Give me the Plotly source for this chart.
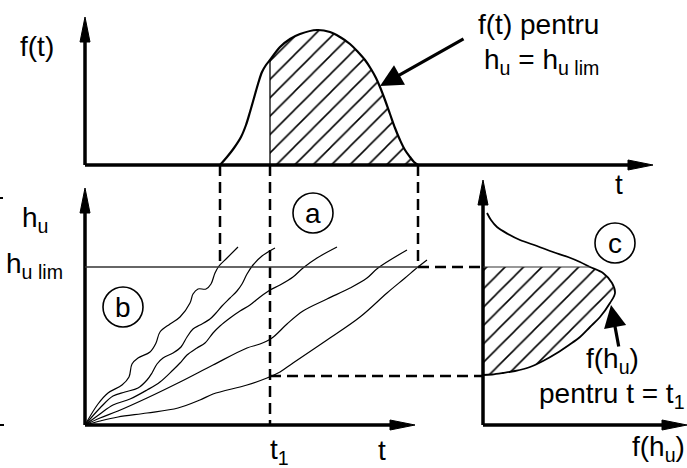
import plotly.graph_objects as go

W, H = 687, 468
FONT = "Liberation Sans, Arial, sans-serif"

# ---- panel geometry (drawing units = pixels, y grows downward) ----
TOP_ORIGIN = (85, 165)      # f(t) vs t
TOP_YTIP, TOP_XTIP = 17, 653
LEFT_ORIGIN = (85, 425)     # h_u vs t
LEFT_YTIP, LEFT_XTIP = 188, 415
RIGHT_ORIGIN = (483, 425)   # h_u vs f(h_u)
RIGHT_YTIP, RIGHT_XTIP = 180, 687

T_START, T1, T_END = 220, 270, 418   # t where h_u reaches h_u lim / chosen t1 / last crossing
H_LIM = 267                          # level h_u lim
H_T1 = 376                           # lowest trajectory value at t1

# ---- f(t) for h_u = h_u lim ----
ft_t = [220, 227, 234, 241, 246, 250, 254, 258, 262, 266, 270, 280, 290, 300, 317, 330,
        340, 350, 358, 365, 371, 376, 380, 385, 390, 395, 400, 405, 410, 414, 418]
ft_f = [165, 157, 148, 137, 125, 112, 98, 84, 72, 65, 60, 47, 39, 34, 30, 32,
        37, 44, 52, 60, 69, 78, 87, 100, 114, 128, 140, 150, 157, 162, 165]

# ---- h_u(t) realisations ----
traj_t = [
    [85, 98, 108, 122, 129, 132, 138, 150, 156, 160, 170, 180, 190, 193, 198, 206, 211, 215, 219, 227, 238],
    [85, 100, 113, 125, 138, 147, 152, 157, 163, 173, 181, 187, 193, 200, 210, 216, 222, 230, 237, 242, 247, 253, 262, 275],
    [85, 100, 113, 130, 147, 160, 173, 180, 187, 197, 205, 213, 220, 230, 240, 250, 260, 270, 280, 293, 303, 317, 337],
    [85, 100, 118, 147, 180, 213, 247, 260, 272, 287, 303, 327, 350, 367, 378, 407],
    [85, 100, 118, 147, 178, 200, 213, 247, 267, 280, 293, 327, 360, 387, 405, 418, 427],
]
traj_h = [
    [425, 404, 393, 385, 377, 364, 358, 352, 343, 332, 324, 317, 303, 294, 289, 289, 284, 273, 266, 258, 247],
    [425, 408, 396, 392, 388, 380, 373, 364, 358, 353, 347, 337, 329, 325, 319, 313, 306, 298, 291, 284, 274, 265, 256, 248],
    [425, 414, 405, 399, 390, 382, 370, 363, 355, 348, 343, 333, 326, 318, 311, 305, 297, 290, 285, 277, 268, 258, 247],
    [425, 418, 411, 398, 382, 365, 348, 344, 338, 324, 311, 299, 288, 278, 268, 250],
    [425, 421, 417, 413, 408, 400, 394, 385, 378, 372, 363, 340, 317, 293, 278, 267, 260],
]

# ---- f(h_u) at t = t1 ----
fh_f = [487, 491, 497, 508, 520, 537, 553, 568, 580, 590, 603, 612, 615, 610, 600, 590,
        580, 569, 557, 543, 530, 515, 503, 492, 483]
fh_h = [213, 220, 227, 234, 240, 246, 252, 257, 262, 267, 273, 283, 293, 303, 317, 327,
        337, 345, 353, 361, 367, 371, 373, 374.5, 375]

# ---- labels ----
circle_labels = [("a", 313, 213), ("b", 123, 307), ("c", 615, 243)]
CIRCLE_R = 20

fig = go.Figure()

hatch = dict(shape="/", size=13, solidity=0.12, fgcolor="black", bgcolor="white",
             fgopacity=1, fillmode="replace")

# hatched area under f(t) for t >= t1
top_x = [T1] + [t for t in ft_t if t > T1] + [T_END]
top_y = [ft_f[ft_t.index(T1)]] + [f for t, f in zip(ft_t, ft_f) if t > T1] + [TOP_ORIGIN[1]]
fig.add_trace(go.Scatter(x=[T1] + top_x, y=[TOP_ORIGIN[1]] + top_y, mode="lines", fill="toself",
                         fillcolor="white", fillpattern=hatch,
                         line=dict(width=0), hoverinfo="skip", showlegend=False))

# hatched area of f(h_u) between h_u lim and h_u(t1)
lo = fh_h.index(H_LIM)
cx = [RIGHT_ORIGIN[0]] + fh_f[lo:]
cy = [H_LIM] + fh_h[lo:]
fig.add_trace(go.Scatter(x=cx, y=cy, mode="lines", fill="toself",
                         fillcolor="white", fillpattern=hatch,
                         line=dict(width=0), hoverinfo="skip", showlegend=False))

# curves
fig.add_trace(go.Scatter(x=ft_t, y=ft_f, mode="lines", line=dict(color="black", width=2.2, shape="spline"),
                         hoverinfo="skip", showlegend=False))
for tx, hy in zip(traj_t, traj_h):
    fig.add_trace(go.Scatter(x=tx, y=hy, mode="lines", line=dict(color="black", width=1.2, shape="spline"),
                             hoverinfo="skip", showlegend=False))
fig.add_trace(go.Scatter(x=fh_f, y=fh_h, mode="lines", line=dict(color="black", width=1.8, shape="spline"),
                         hoverinfo="skip", showlegend=False))

shapes = []


def seg(x0, y0, x1, y1, width, dash="solid", color="black"):
    shapes.append(dict(type="line", xref="x", yref="y", x0=x0, y0=y0, x1=x1, y1=y1,
                       line=dict(color=color, width=width, dash=dash), layer="above"))


def arrow_head(tipx, tipy, direction, length=25, half=5):
    if direction == "up":
        p = f"M {tipx},{tipy} L {tipx - half},{tipy + length} L {tipx + half},{tipy + length} Z"
    else:
        p = f"M {tipx},{tipy} L {tipx - length},{tipy - half} L {tipx - length},{tipy + half} Z"
    shapes.append(dict(type="path", xref="x", yref="y", path=p, fillcolor="black",
                       line=dict(color="black", width=1), layer="above"))


AX_W = 3.5
for (ox, oy), ytip, xtip in [(TOP_ORIGIN, TOP_YTIP, TOP_XTIP),
                             (LEFT_ORIGIN, LEFT_YTIP, LEFT_XTIP),
                             (RIGHT_ORIGIN, RIGHT_YTIP, RIGHT_XTIP)]:
    seg(ox, oy, ox, ytip + 12, AX_W)
    seg(ox, oy, xtip - 12, oy, AX_W)
    arrow_head(ox, ytip, "up")
    arrow_head(xtip, oy, "right")

DASH = "11px,6px"
# t1 split inside f(t)
seg(T1, ft_f[ft_t.index(T1)], T1, TOP_ORIGIN[1], 1.3)
# projections between panels
seg(T_START, TOP_ORIGIN[1], T_START, H_LIM, 2.5, DASH)
seg(T1, TOP_ORIGIN[1], T1, LEFT_ORIGIN[1], 2.5, DASH)
seg(T_END, TOP_ORIGIN[1], T_END, H_LIM, 2.5, DASH)
seg(T_END, H_LIM, RIGHT_ORIGIN[0], H_LIM, 2.5, DASH)
seg(T1, H_T1, RIGHT_ORIGIN[0], H_T1, 2.5, DASH)
# h_u lim level
seg(LEFT_ORIGIN[0], H_LIM, T_END, H_LIM, 1.3, color="#333333")
seg(RIGHT_ORIGIN[0], H_LIM, 590, H_LIM, 1.2, color="#333333")
# small marks at left border
seg(0, 198, 3, 198, 2)
seg(0, 425, 4, 425, 2)

for lab, x, y in circle_labels:
    shapes.append(dict(type="circle", xref="x", yref="y", x0=x - CIRCLE_R, x1=x + CIRCLE_R,
                       y0=y - CIRCLE_R, y1=y + CIRCLE_R, line=dict(color="black", width=1.6)))

annotations = []


def label(text, x, y, size=28, xanchor="center", yanchor="middle"):
    annotations.append(dict(x=x, y=y, xref="x", yref="y", text=text, showarrow=False,
                            xanchor=xanchor, yanchor=yanchor,
                            font=dict(family=FONT, size=size, color="black")))


label("f(t)", 37, 46)
label("f(t) pentru", 601, 24, xanchor="right")
label("h<sub>u</sub> = h<sub>u lim</sub>", 601, 61, xanchor="right")
label("t", 619, 184)
label("h<sub>u</sub>", 35, 219)
label("h<sub>u lim</sub>", 34, 265)
label("t<sub>1</sub>", 279, 451)
label("t", 382, H, yanchor="bottom")
label("f(h<sub>u</sub>)", 612, 360)
label("pentru t = t<sub>1</sub>", 612, 395)
label("f(h<sub>u</sub>)", 658, H, yanchor="bottom")
for lab, x, y in circle_labels:
    label(lab, x, y)

# pointer arrows
annotations.append(dict(x=380, y=86, ax=465, ay=38, xref="x", yref="y", axref="x", ayref="y",
                        text="", showarrow=True, arrowhead=2, arrowsize=1.4, arrowwidth=3.2,
                        arrowcolor="black"))
annotations.append(dict(x=611, y=305, ax=619, ay=348, xref="x", yref="y", axref="x", ayref="y",
                        text="", showarrow=True, arrowhead=2, arrowsize=1.4, arrowwidth=3.2,
                        arrowcolor="black"))

fig.update_layout(
    width=W, height=H, autosize=False,
    margin=dict(l=0, r=0, t=0, b=0),
    paper_bgcolor="white", plot_bgcolor="white",
    xaxis=dict(range=[0, W], visible=False, fixedrange=True),
    yaxis=dict(range=[H, 0], visible=False, fixedrange=True),
    shapes=shapes, annotations=annotations,
    showlegend=False,
)

fig.write_html("out.html")
